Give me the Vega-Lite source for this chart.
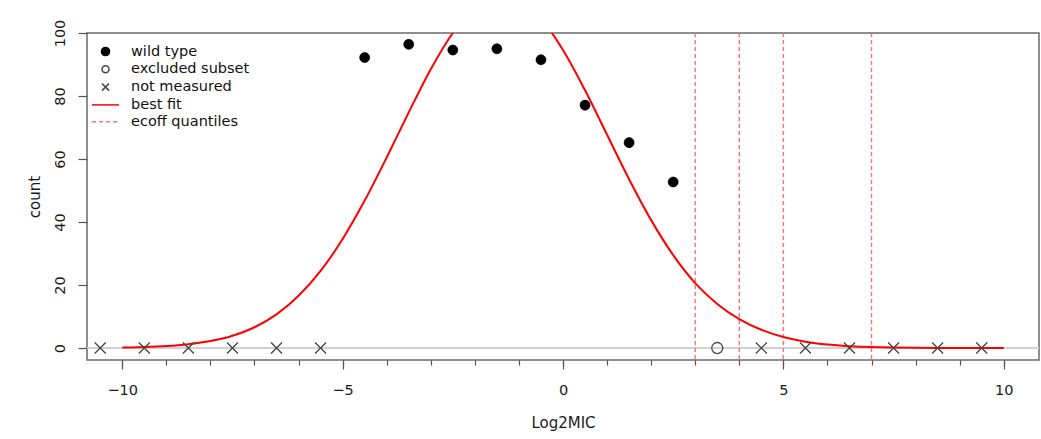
{
  "$schema": "https://vega.github.io/schema/vega-lite/v6.json",
  "width": 952,
  "height": 327,
  "autosize": {"type": "none"},
  "padding": {"left": 87, "top": 33, "right": 2, "bottom": 79},
  "background": "white",
  "config": {
    "font": "DejaVu Sans",
    "view": {"stroke": "#6a6a6a", "strokeWidth": 1.5},
    "axis": {
      "grid": false,
      "domain": false,
      "tickColor": "#555555",
      "tickWidth": 1.2,
      "labelFont": "DejaVu Sans",
      "labelFontSize": 14.5,
      "labelColor": "#1a1a1a",
      "titleFont": "DejaVu Sans",
      "titleFontSize": 15,
      "titleFontWeight": "normal",
      "titleColor": "#1a1a1a"
    },
    "legend": {
      "orient": "top-left",
      "offset": 11,
      "padding": 0,
      "labelFont": "DejaVu Sans",
      "labelFontSize": 14.5,
      "labelColor": "#111111",
      "symbolSize": 182,
      "symbolStrokeWidth": 1.5,
      "labelOffset": 18,
      "rowPadding": 1.8
    }
  },
  "datasets": {
    "wt": [
      {"x": -4.5, "count": 92.2, "series": "wild type"},
      {"x": -3.5, "count": 96.4, "series": "wild type"},
      {"x": -2.5, "count": 94.6, "series": "wild type"},
      {"x": -1.5, "count": 95.0, "series": "wild type"},
      {"x": -0.5, "count": 91.5, "series": "wild type"},
      {"x": 0.5, "count": 77.1, "series": "wild type"},
      {"x": 1.5, "count": 65.2, "series": "wild type"},
      {"x": 2.5, "count": 52.7, "series": "wild type"}
    ],
    "other": [
      {"x": 3.5, "count": 0, "series": "excluded subset"},
      {"x": -10.5, "count": 0, "series": "not measured"},
      {"x": -9.5, "count": 0, "series": "not measured"},
      {"x": -8.5, "count": 0, "series": "not measured"},
      {"x": -7.5, "count": 0, "series": "not measured"},
      {"x": -6.5, "count": 0, "series": "not measured"},
      {"x": -5.5, "count": 0, "series": "not measured"},
      {"x": 4.5, "count": 0, "series": "not measured"},
      {"x": 5.5, "count": 0, "series": "not measured"},
      {"x": 6.5, "count": 0, "series": "not measured"},
      {"x": 7.5, "count": 0, "series": "not measured"},
      {"x": 8.5, "count": 0, "series": "not measured"},
      {"x": 9.5, "count": 0, "series": "not measured"}
    ],
    "fit": [
      {"x": -10, "count": 0.15, "series": "best fit"},
      {"x": -9.5, "count": 0.31, "series": "best fit"},
      {"x": -9, "count": 0.62, "series": "best fit"},
      {"x": -8.5, "count": 1.2, "series": "best fit"},
      {"x": -8, "count": 2.2, "series": "best fit"},
      {"x": -7.5, "count": 3.9, "series": "best fit"},
      {"x": -7, "count": 6.6, "series": "best fit"},
      {"x": -6.5, "count": 10.7, "series": "best fit"},
      {"x": -6, "count": 16.6, "series": "best fit"},
      {"x": -5.5, "count": 24.5, "series": "best fit"},
      {"x": -5, "count": 34.6, "series": "best fit"},
      {"x": -4.5, "count": 46.8, "series": "best fit"},
      {"x": -4, "count": 60.5, "series": "best fit"},
      {"x": -3.5, "count": 74.8, "series": "best fit"},
      {"x": -3, "count": 88.5, "series": "best fit"},
      {"x": -2.5, "count": 100.0, "series": "best fit"},
      {"x": -2, "count": 108.2, "series": "best fit"},
      {"x": -1.5, "count": 111.8, "series": "best fit"},
      {"x": -1, "count": 110.6, "series": "best fit"},
      {"x": -0.5, "count": 104.6, "series": "best fit"},
      {"x": 0, "count": 94.6, "series": "best fit"},
      {"x": 0.5, "count": 81.8, "series": "best fit"},
      {"x": 1, "count": 67.7, "series": "best fit"},
      {"x": 1.5, "count": 53.6, "series": "best fit"},
      {"x": 2, "count": 40.6, "series": "best fit"},
      {"x": 2.5, "count": 29.5, "series": "best fit"},
      {"x": 3, "count": 20.6, "series": "best fit"},
      {"x": 3.5, "count": 14.0, "series": "best fit"},
      {"x": 4, "count": 9.2, "series": "best fit"},
      {"x": 4.5, "count": 5.8, "series": "best fit"},
      {"x": 5, "count": 3.5, "series": "best fit"},
      {"x": 5.5, "count": 2.0, "series": "best fit"},
      {"x": 6, "count": 1.1, "series": "best fit"},
      {"x": 6.5, "count": 0.6, "series": "best fit"},
      {"x": 7, "count": 0.3, "series": "best fit"},
      {"x": 7.5, "count": 0.15, "series": "best fit"},
      {"x": 8, "count": 0.07, "series": "best fit"},
      {"x": 8.5, "count": 0.03, "series": "best fit"},
      {"x": 9, "count": 0.01, "series": "best fit"},
      {"x": 9.5, "count": 0.005, "series": "best fit"},
      {"x": 10, "count": 0.002, "series": "best fit"}
    ],
    "ecoff": [
      {"x": 3, "series": "ecoff quantiles"},
      {"x": 4, "series": "ecoff quantiles"},
      {"x": 5, "series": "ecoff quantiles"},
      {"x": 7, "series": "ecoff quantiles"}
    ]
  },
  "layer": [
    {
      "data": {"name": "ecoff"},
      "mark": {"type": "rule", "color": "#d0d0d0", "strokeWidth": 1.2},
      "encoding": {
        "y": {"datum": 0, "type": "quantitative", "scale": {"domain": [-3.8, 100], "nice": false, "zero": false},
          "axis": {"values": [0, 20, 40, 60, 80, 100], "tickSize": 9, "labelAngle": 270, "labelAlign": "center", "labelBaseline": "bottom", "labelPadding": 11, "title": "count", "titlePadding": 10}}
      }
    },
    {
      "data": {"name": "ecoff"},
      "mark": {"type": "rule", "strokeDash": [4, 3], "strokeWidth": 1.4},
      "encoding": {
        "x": {"field": "x", "type": "quantitative", "scale": {"domain": [-10.8, 10.8], "nice": false, "zero": false},
          "axis": {"orient": "bottom", "values": [-10, -9, -8, -7, -6, -5, -4, -3, -2, -1, 0, 1, 2, 3, 4, 5, 6, 7, 8, 9, 10], "tickSize": 5, "labels": false, "title": null}},
        "stroke": {"field": "series", "type": "nominal",
          "scale": {"domain": ["wild type", "excluded subset", "not measured", "best fit", "ecoff quantiles"], "range": ["#000000", "#444444", "#444444", "#ff0000", "#ff7070"]},
          "legend": {"title": null}}
      }
    },
    {
      "data": {"name": "fit"},
      "mark": {"type": "line", "strokeWidth": 2, "interpolate": "monotone", "clip": true},
      "encoding": {
        "x": {"field": "x", "type": "quantitative", "scale": {"domain": [-10.8, 10.8], "nice": false, "zero": false}, "axis": null},
        "y": {"field": "count", "type": "quantitative", "scale": {"domain": [-3.8, 100], "nice": false, "zero": false},
          "axis": {"values": [0, 20, 40, 60, 80, 100], "tickSize": 9, "labelAngle": 270, "labelAlign": "center", "labelBaseline": "bottom", "labelPadding": 11, "title": "count", "titlePadding": 10}},
        "stroke": {"field": "series", "type": "nominal", "legend": {"title": null}}
      }
    },
    {
      "data": {"name": "other"},
      "mark": {"type": "point", "size": 449, "strokeWidth": 1.3, "opacity": 1},
      "encoding": {
        "x": {"field": "x", "type": "quantitative", "scale": {"domain": [-10.8, 10.8], "nice": false, "zero": false}, "axis": null},
        "y": {"field": "count", "type": "quantitative", "scale": {"domain": [-3.8, 100], "nice": false, "zero": false},
          "axis": {"values": [0, 20, 40, 60, 80, 100], "tickSize": 9, "labelAngle": 270, "labelAlign": "center", "labelBaseline": "bottom", "labelPadding": 11, "title": "count", "titlePadding": 10}},
        "shape": {"field": "series", "type": "nominal",
          "scale": {"domain": ["wild type", "excluded subset", "not measured", "best fit", "ecoff quantiles"],
            "range": ["M-0.6,0A0.6,0.6,0,1,0,0.6,0A0.6,0.6,0,1,0,-0.6,0Z", "M-0.52,0A0.52,0.52,0,1,0,0.52,0A0.52,0.52,0,1,0,-0.52,0Z", "M-0.52,-0.52L0.52,0.52M-0.52,0.52L0.52,-0.52", "M-2,0L2,0", "M-2,0H-1.4M-0.95,0H-0.35M0.1,0H0.7M1.15,0H1.75"]},
          "legend": {"title": null}},
        "fill": {"field": "series", "type": "nominal",
          "scale": {"domain": ["wild type", "excluded subset", "not measured", "best fit", "ecoff quantiles"], "range": ["#000000", "transparent", "transparent", "transparent", "transparent"]},
          "legend": {"title": null}},
        "stroke": {"field": "series", "type": "nominal", "legend": {"title": null}}
      }
    },
    {
      "data": {"name": "wt"},
      "mark": {"type": "point", "size": 280, "strokeWidth": 0.6, "opacity": 1},
      "encoding": {
        "x": {"field": "x", "type": "quantitative", "scale": {"domain": [-10.8, 10.8], "nice": false, "zero": false},
          "axis": {"orient": "bottom", "values": [-10, -5, 0, 5, 10], "tickSize": 9, "labelPadding": 14, "title": "Log2MIC", "titlePadding": 19}},
        "y": {"field": "count", "type": "quantitative", "scale": {"domain": [-3.8, 100], "nice": false, "zero": false},
          "axis": {"values": [0, 20, 40, 60, 80, 100], "tickSize": 9, "labelAngle": 270, "labelAlign": "center", "labelBaseline": "bottom", "labelPadding": 11, "title": "count", "titlePadding": 10}},
        "shape": {"field": "series", "type": "nominal", "legend": {"title": null}},
        "fill": {"field": "series", "type": "nominal", "legend": {"title": null}},
        "stroke": {"field": "series", "type": "nominal", "legend": {"title": null}}
      }
    }
  ],
  "resolve": {"axis": {"x": "independent"}}
}
